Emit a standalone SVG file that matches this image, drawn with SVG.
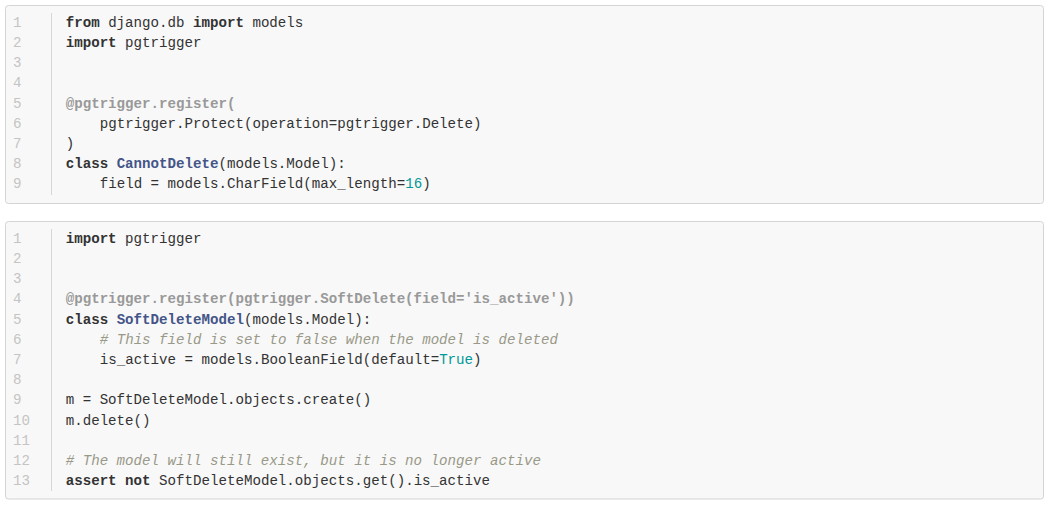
<svg xmlns="http://www.w3.org/2000/svg" width="1054" height="512" viewBox="0 0 1054 512">
<style>
.box{fill:#f8f8f8;stroke:#d4d4d4;stroke-width:1}
.sep{stroke:#d6d6d6;stroke-width:1}
text{font-family:"Liberation Mono","DejaVu Sans Mono",monospace;font-size:14.15px;fill:#333;white-space:pre}
.ln{fill:#c4c4c4}
.k{font-weight:bold;fill:#333}
.c{font-weight:bold;fill:#445588}
.d{font-weight:bold;fill:#999}
.cm{font-style:italic;fill:#999988}
.n{fill:#009999}
</style>
<rect width="1054" height="512" fill="#ffffff"/>
<g id="block1">
<rect class="box" x="5.5" y="5.5" width="1038" height="198" rx="3"/>
<line class="sep" x1="51.5" y1="13" x2="51.5" y2="195"/>
<g id="block1-lines">
<text class="ln" x="13" y="26.7">1</text>
<text class="ln" x="13" y="46.9">2</text>
<text class="ln" x="13" y="67.1">3</text>
<text class="ln" x="13" y="87.3">4</text>
<text class="ln" x="13" y="107.5">5</text>
<text class="ln" x="13" y="127.7">6</text>
<text class="ln" x="13" y="147.9">7</text>
<text class="ln" x="13" y="168.1">8</text>
<text class="ln" x="13" y="188.3">9</text>
</g>
<g id="block1-code">
<text x="65.7" y="26.7"><tspan class="k">from</tspan> django.db <tspan class="k">import</tspan> models</text>
<text x="65.7" y="46.9"><tspan class="k">import</tspan> pgtrigger</text>
<text x="65.7" y="107.5" class="d">@pgtrigger.register(</text>
<text x="99.7" y="127.7">pgtrigger.Protect(operation=pgtrigger.Delete)</text>
<text x="65.7" y="147.9">)</text>
<text x="65.7" y="168.1"><tspan class="k">class</tspan> <tspan class="c">CannotDelete</tspan>(models.Model):</text>
<text x="99.7" y="188.3">field = models.CharField(max_length=<tspan class="n">16</tspan>)</text>
</g>
</g>
<g id="block2">
<rect class="box" x="5.5" y="221.5" width="1038" height="277.5" rx="3"/>
<line class="sep" x1="51.5" y1="229" x2="51.5" y2="491"/>
<g id="block2-lines">
<text class="ln" x="13" y="242.7">1</text>
<text class="ln" x="13" y="262.9">2</text>
<text class="ln" x="13" y="283.1">3</text>
<text class="ln" x="13" y="303.3">4</text>
<text class="ln" x="13" y="323.5">5</text>
<text class="ln" x="13" y="343.7">6</text>
<text class="ln" x="13" y="363.9">7</text>
<text class="ln" x="13" y="384.1">8</text>
<text class="ln" x="13" y="404.3">9</text>
<text class="ln" x="13" y="424.5">10</text>
<text class="ln" x="13" y="444.7">11</text>
<text class="ln" x="13" y="464.9">12</text>
<text class="ln" x="13" y="485.1">13</text>
</g>
<g id="block2-code">
<text x="65.7" y="242.7"><tspan class="k">import</tspan> pgtrigger</text>
<text x="65.7" y="303.3" class="d">@pgtrigger.register(pgtrigger.SoftDelete(field='is_active'))</text>
<text x="65.7" y="323.5"><tspan class="k">class</tspan> <tspan class="c">SoftDeleteModel</tspan>(models.Model):</text>
<text x="99.7" y="343.7" class="cm"># This field is set to false when the model is deleted</text>
<text x="99.7" y="363.9">is_active = models.BooleanField(default=<tspan class="n">True</tspan>)</text>
<text x="65.7" y="404.3">m = SoftDeleteModel.objects.create()</text>
<text x="65.7" y="424.5">m.delete()</text>
<text x="65.7" y="464.9" class="cm"># The model will still exist, but it is no longer active</text>
<text x="65.7" y="485.1"><tspan class="k">assert</tspan> <tspan class="k">not</tspan> SoftDeleteModel.objects.get().is_active</text>
</g>
</g>
</svg>
